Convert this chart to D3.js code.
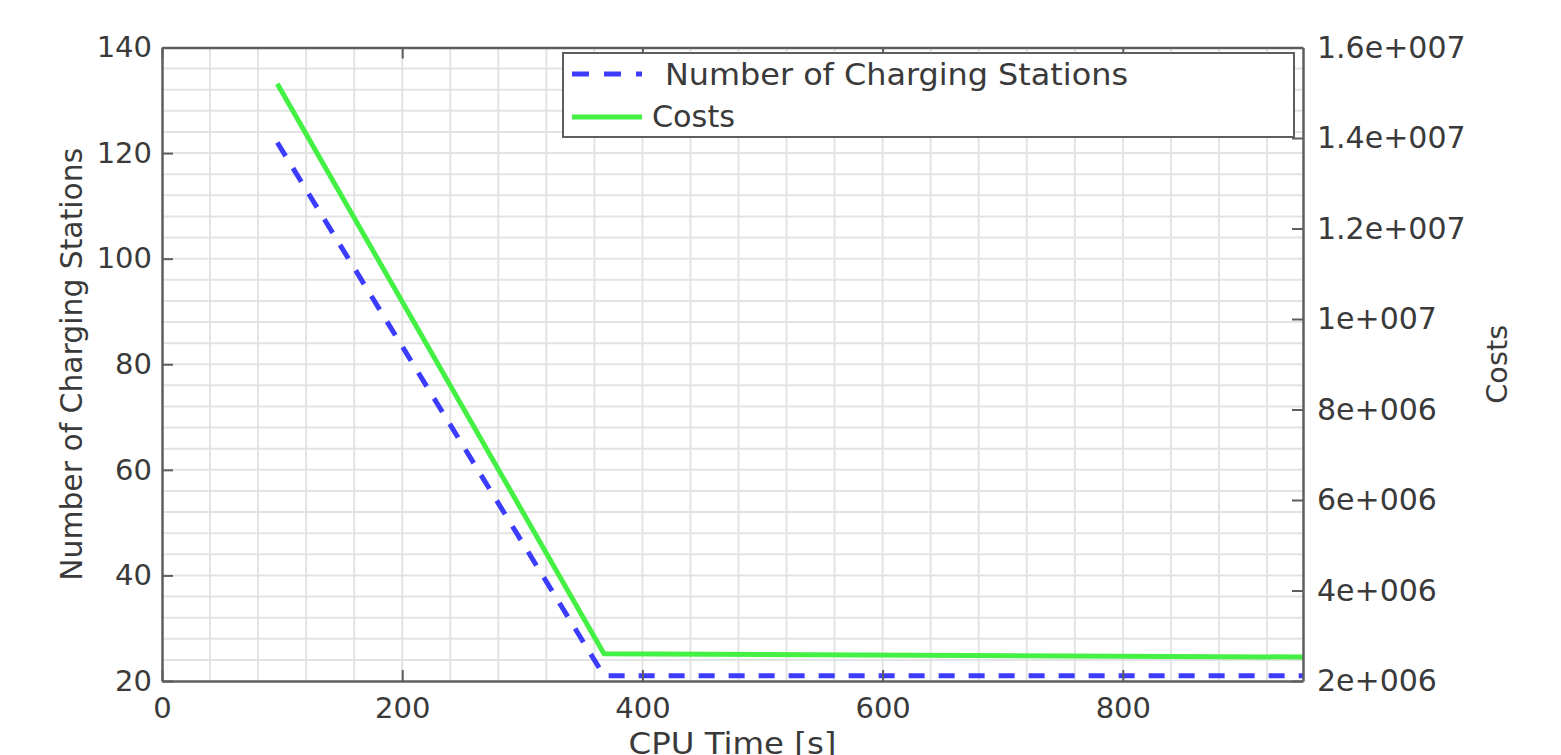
<!DOCTYPE html>
<html>
<head>
<meta charset="utf-8">
<script src="https://cdn.jsdelivr.net/npm/d3@7"></script>
<style>
  html, body { margin: 0; padding: 0; background: #fff; }
  svg { display: block; }
  text { font-family: "DejaVu Sans", Verdana, sans-serif; fill: #3a3a3a; }
</style>
</head>
<body>
<svg id="chart" width="1561" height="755"></svg>
<script>
// CPU time [s] at each recorded step
const cpuTime = [96, 368, 950];
// Number of charging stations (left axis)
const stations = [122, 21, 21];
// Total costs (right axis)
const costs = [1.52e7, 2.6e6, 2.53e6];

const xTicks = [0, 200, 400, 600, 800];
const yLeftTicks = [20, 40, 60, 80, 100, 120, 140];
const yRightTicks = [2e6, 4e6, 6e6, 8e6, 1e7, 1.2e7, 1.4e7, 1.6e7];
const yRightLabels = ["2e+006", "4e+006", "6e+006", "8e+006", "1e+007", "1.2e+007", "1.4e+007", "1.6e+007"];

const legendItems = ["Number of Charging Stations", "Costs"];

const W = 1561, H = 755;
const m = { left: 162, right: W - 1303, top: 47.5, bottom: H - 681 };

const svg = d3.select("#chart");

const x = d3.scaleLinear().domain([0, 950]).range([m.left, W - m.right]);
const yL = d3.scaleLinear().domain([20, 140]).range([H - m.bottom, m.top]);
const yR = d3.scaleLinear().domain([2e6, 1.6e7]).range([H - m.bottom, m.top]);

const gridColor = "#e3e3e3";
const axisColor = "#5e5e5e";
const blue = "#3c3cff";
const green = "#45f045";

// minor + major grid
const grid = svg.append("g");
grid.selectAll("line.vx")
  .data(d3.range(40, 950, 40))
  .join("line")
  .attr("x1", d => x(d)).attr("x2", d => x(d))
  .attr("y1", m.top).attr("y2", H - m.bottom)
  .attr("stroke", gridColor).attr("stroke-width", 2);
grid.selectAll("line.hy")
  .data(d3.range(24, 140, 4))
  .join("line")
  .attr("y1", d => yL(d)).attr("y2", d => yL(d))
  .attr("x1", m.left).attr("x2", W - m.right)
  .attr("stroke", gridColor).attr("stroke-width", 2);

// series
const ptsS = cpuTime.map((t, i) => [t, stations[i]]);
const ptsC = cpuTime.map((t, i) => [t, costs[i]]);

svg.append("path")
  .datum(ptsC)
  .attr("d", d3.line().x(d => x(d[0])).y(d => yR(d[1])))
  .attr("fill", "none").attr("stroke", green).attr("stroke-width", 5);

svg.append("path")
  .datum(ptsS)
  .attr("d", d3.line().x(d => x(d[0])).y(d => yL(d[1])))
  .attr("fill", "none").attr("stroke", blue).attr("stroke-width", 5)
  .attr("stroke-dasharray", "16,14");

// axes (ticks point inward)
const tickLen = 11;
const axB = svg.append("g").attr("transform", `translate(0,${H - m.bottom})`)
  .call(d3.axisBottom(x).tickValues(xTicks).tickSizeInner(-tickLen).tickSizeOuter(0));
const axT = svg.append("g").attr("transform", `translate(0,${m.top})`)
  .call(d3.axisTop(x).tickValues(xTicks).tickSizeInner(-tickLen).tickSizeOuter(0).tickFormat(""));
const axL = svg.append("g").attr("transform", `translate(${m.left},0)`)
  .call(d3.axisLeft(yL).tickValues(yLeftTicks).tickSizeInner(-tickLen).tickSizeOuter(0).tickPadding(10));
const axR = svg.append("g").attr("transform", `translate(${W - m.right},0)`)
  .call(d3.axisRight(yR).tickValues(yRightTicks).tickSizeInner(-tickLen).tickSizeOuter(0).tickPadding(14)
    .tickFormat((d, i) => yRightLabels[i]));

[axB, axT, axL, axR].forEach(a => {
  a.select(".domain").attr("stroke", axisColor).attr("stroke-width", 2.5);
  a.selectAll(".tick line").attr("stroke", axisColor).attr("stroke-width", 2);
  a.selectAll(".tick text").attr("font-size", 29).attr("fill", "#3a3a3a")
    .attr("font-family", "DejaVu Sans, Verdana, sans-serif");
});
axB.selectAll(".tick text").attr("dy", "0").attr("y", 37);
axR.selectAll(".tick text").attr("font-size", 30);

// axis titles
svg.append("text")
  .attr("x", x(475)).attr("y", 754)
  .attr("text-anchor", "middle").attr("font-size", 30)
  .attr("textLength", 208).attr("lengthAdjust", "spacingAndGlyphs")
  .text("CPU Time [s]");
svg.append("text")
  .attr("transform", `translate(82,${(m.top + H - m.bottom) / 2}) rotate(-90)`)
  .attr("text-anchor", "middle").attr("font-size", 30)
  .attr("textLength", 433).attr("lengthAdjust", "spacingAndGlyphs")
  .text("Number of Charging Stations");
svg.append("text")
  .attr("transform", `translate(1507,${(m.top + H - m.bottom) / 2}) rotate(-90)`)
  .attr("text-anchor", "middle").attr("font-size", 29)
  .attr("textLength", 79).attr("lengthAdjust", "spacingAndGlyphs")
  .text("Costs");

// legend
const lg = svg.append("g");
lg.append("rect")
  .attr("x", 563).attr("y", 53).attr("width", 1294 - 563).attr("height", 137 - 53)
  .attr("fill", "#fff").attr("stroke", axisColor).attr("stroke-width", 2);
lg.append("line")
  .attr("x1", 572).attr("x2", 642).attr("y1", 74).attr("y2", 74)
  .attr("stroke", blue).attr("stroke-width", 5).attr("stroke-dasharray", "17,15");
lg.append("line")
  .attr("x1", 572).attr("x2", 642).attr("y1", 117).attr("y2", 117)
  .attr("stroke", green).attr("stroke-width", 5);
lg.append("text").attr("x", 665).attr("y", 85).attr("font-size", 30)
  .attr("textLength", 463).attr("lengthAdjust", "spacingAndGlyphs")
  .text(legendItems[0]);
lg.append("text").attr("x", 652).attr("y", 127).attr("font-size", 30)
  .attr("textLength", 83).attr("lengthAdjust", "spacingAndGlyphs")
  .text(legendItems[1]);
</script>
</body>
</html>
